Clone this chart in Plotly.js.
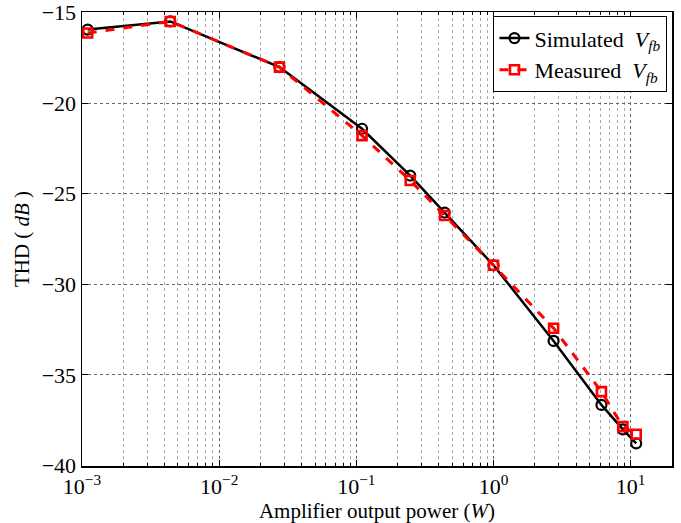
<!DOCTYPE html>
<html>
<head>
<meta charset="utf-8">
<script src="https://cdn.plot.ly/plotly-3.0.1.min.js"></script>
<style>html,body{margin:0;padding:0;background:#fff;}#chart{width:681px;height:523px;}</style>
</head>
<body>
<div id="chart"></div>
<script>
const power = [0.0011, 0.0044, 0.0275, 0.11, 0.247, 0.44, 1.0, 2.74, 6.12, 8.77, 10.97];
const simulated = [-15.95, -15.5, -18.02, -21.42, -24.0, -26.04, -28.95, -33.12, -36.65, -38.0, -38.77];
const measured = [-16.14, -15.5, -18.02, -21.8, -24.27, -26.2, -28.95, -32.42, -35.92, -37.85, -38.27];
const xTickVals = [0.001, 0.01, 0.1, 1, 10];
const xTickText = ['10<sup>−3</sup>', '10<sup>−2</sup>', '10<sup>−1</sup>', '10<sup>0</sup>', '10<sup>1</sup>'];
const yTickVals = [-40, -35, -30, -25, -20, -15];
const yTickText = ['−40', '−35', '−30', '−25', '−20', '−15'];

const font = '"Liberation Serif", "Times New Roman", serif';
const traces = [
  {x: power, y: simulated, name: 'Simulated  <i>V<sub>fb</sub></i>', mode: 'lines+markers', type: 'scatter',
   line: {color: '#000', width: 2.5},
   marker: {symbol: 'circle-open', size: 10, color: '#000', line: {width: 2.2, color: '#000'}}},
  {x: power, y: measured, name: 'Measured  <i>V<sub>fb</sub></i>', mode: 'lines+markers', type: 'scatter',
   line: {color: '#ff0000', width: 3, dash: 'dash'},
   marker: {symbol: 'square-open', size: 9, color: '#ff0000', line: {width: 2.6, color: '#ff0000'}}}
];
const layout = {
  width: 681, height: 523,
  margin: {l: 82, r: 9, t: 12, b: 57},
  paper_bgcolor: '#fff', plot_bgcolor: '#fff',
  font: {family: font, size: 20, color: '#000'},
  showlegend: true,
  legend: {x: 0.992, y: 0.991, xanchor: 'right', yanchor: 'top', bgcolor: '#fff',
           bordercolor: '#000', borderwidth: 1.2, font: {family: font, size: 22, color: '#000'},
           tracegroupgap: 4, itemwidth: 30},
  xaxis: {type: 'log', range: [-3, Math.log10(20)], tickvals: xTickVals, ticktext: xTickText,
          ticks: 'inside', ticklen: 6, tickcolor: '#000', mirror: 'ticks', showline: true, linecolor: '#000', linewidth: 1.5,
          showgrid: true, gridcolor: '#666', griddash: 'dot', gridwidth: 1, zeroline: false,
          tickfont: {family: font, size: 22}, ticklabeloverflow: 'allow',
          minor: {dtick: 'D1', showgrid: true, gridcolor: '#aaa', griddash: 'dot', gridwidth: 1, ticks: 'inside', ticklen: 3, tickcolor: '#000'},
          title: {text: 'Amplifier output power (<i>W</i>)', font: {family: font, size: 21}, standoff: 2}},
  yaxis: {range: [-40.02, -14.98], tickvals: yTickVals, ticktext: yTickText,
          ticks: 'inside', ticklen: 6, tickcolor: '#000', mirror: 'ticks', showline: true, linecolor: '#000', linewidth: 1.5,
          showgrid: true, gridcolor: '#666', griddash: 'dot', gridwidth: 1, zeroline: false,
          tickfont: {family: font, size: 22}, ticklabeloverflow: 'allow',
          title: {text: 'THD ( <i>dB</i> )', font: {family: font, size: 21}, standoff: 6}}
};
Plotly.newPlot('chart', traces, layout, {displayModeBar: false, staticPlot: true});
</script>
</body>
</html>
